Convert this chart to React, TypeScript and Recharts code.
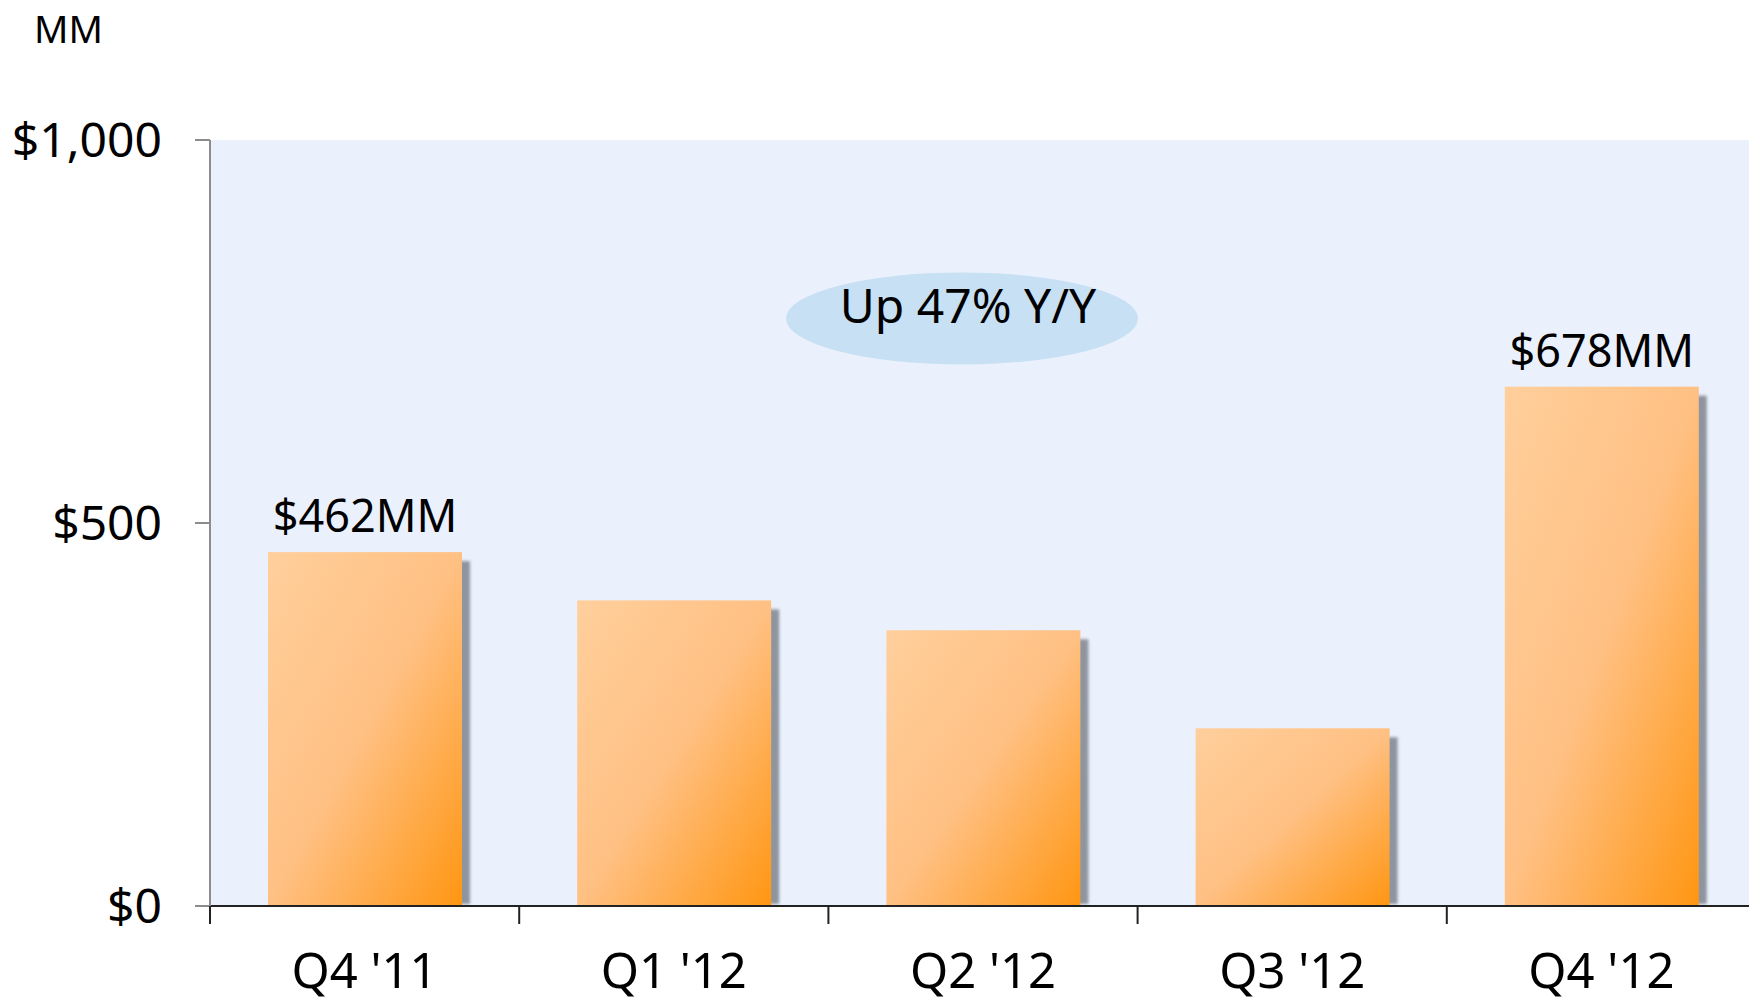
import { Bar, BarChart, CartesianGrid, LabelList, ReferenceDot, XAxis, YAxis } from "recharts";

const quarters = ["Q4 '11", "Q1 '12", "Q2 '12", "Q3 '12", "Q4 '12"];
const revenue = [462, 399, 360, 232, 678];
const barLabels = ["$462MM", "", "", "", "$678MM"];
const yTicks = [0, 500, 1000];
const callout = { quarter: "Q2 '12", value: 767, text: "Up 47% Y/Y" };

const data = quarters.map((quarter, i) => ({
  quarter,
  revenue: revenue[i],
  label: barLabels[i]
}));

const FONT = "'Noto Sans', 'Open Sans', sans-serif";

const money = (v: number) => `$${v.toLocaleString("en-US")}`;

function GradientBar(props: any) {
  const { x, y, width, height } = props;
  if (!height || height <= 0) return null;
  return (
    <g>
      <rect
        x={x + 8}
        y={y + 9}
        width={width}
        height={Math.max(height - 11, 0)}
        fill="#7f858f"
        opacity={0.85}
        filter="url(#barShadowBlur)"
      />
      <rect x={x} y={y} width={width} height={height} fill="url(#barFill)" />
    </g>
  );
}

function QuarterTick(props: any) {
  const { x, y, payload } = props;
  const half = payload?.offset ?? 154.6;
  return (
    <g>
      <line x1={x - half} y1={y} x2={x - half} y2={y + 18} stroke="#222" strokeWidth={2} />
      <text x={x} y={y + 82} textAnchor="middle" fontSize={49} fontFamily={FONT} fill="#000">
        {payload.value}
      </text>
    </g>
  );
}

function TopLabel(props: any) {
  const { x, y, width, value } = props;
  if (!value) return null;
  return (
    <text x={x + width / 2} y={y - 20} textAnchor="middle" fontSize={45} fontFamily={FONT} fill="#000">
      {value}
    </text>
  );
}

function CalloutBubble(props: any) {
  const { cx, cy } = props;
  const ex = cx - 21;
  return (
    <g>
      <ellipse cx={ex} cy={cy} rx={176} ry={46} fill="#c8e0f4" />
      <text x={ex + 6} y={cy + 5} textAnchor="middle" fontSize={48} fontFamily={FONT} fill="#000">
        {callout.text}
      </text>
    </g>
  );
}

export default function App() {
  return (
    <div
      style={{
        position: "fixed",
        left: 0,
        top: 0,
        width: 1749,
        height: 1001,
        overflow: "hidden",
        background: "#fff",
        fontFamily: FONT
      }}
    >
      <div style={{ position: "absolute", left: 34, top: 2, fontSize: 38, color: "#000" }}>MM</div>
      <BarChart
        width={1756}
        height={1001}
        data={data}
        margin={{ top: 140, right: 0, bottom: 0, left: 0 }}
        barSize={194}
      >
        <defs>
          <linearGradient id="barFill" x1="0" y1="0" x2="1" y2="1">
            <stop offset="0%" stopColor="#ffcf9c" />
            <stop offset="50%" stopColor="#ffc083" />
            <stop offset="100%" stopColor="#ff9612" />
          </linearGradient>
          <filter id="barShadowBlur" x="-20%" y="-20%" width="140%" height="140%">
            <feGaussianBlur stdDeviation="1.6" />
          </filter>
        </defs>
        <CartesianGrid fill="#eaf1fc" horizontal={false} vertical={false} />
        <XAxis
          dataKey="quarter"
          height={95}
          axisLine={{ stroke: "#222", strokeWidth: 2 }}
          tickLine={false}
          tickSize={0}
          tickMargin={0}
          tick={<QuarterTick />}
          interval={0}
        />
        <YAxis
          domain={[0, 1000]}
          ticks={yTicks}
          width={210}
          tickFormatter={money}
          axisLine={{ stroke: "#8c8c8c", strokeWidth: 2 }}
          tickLine={{ stroke: "#8c8c8c", strokeWidth: 2 }}
          tickSize={15}
          tickMargin={33}
          tick={{ fontSize: 48, fontFamily: FONT, fill: "#000" }}
        />
        <Bar dataKey="revenue" shape={<GradientBar />} isAnimationActive={false}>
          <LabelList dataKey="label" content={<TopLabel />} />
        </Bar>
        <ReferenceDot
          x={callout.quarter}
          y={callout.value}
          r={1}
          shape={<CalloutBubble />}
          ifOverflow="visible"
        />
      </BarChart>
    </div>
  );
}
